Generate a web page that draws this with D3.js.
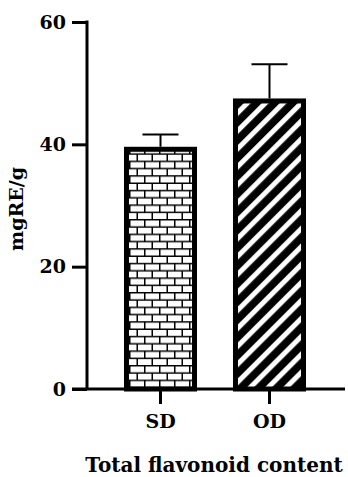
<!DOCTYPE html>
<html>
<head>
<meta charset="utf-8">
<script src="https://cdn.jsdelivr.net/npm/d3@7"></script>
<style>
  body { margin: 0; background: #fff; }
  svg { display: block; }
  text { font-family: "DejaVu Serif", serif; font-weight: bold; fill: #000; }
</style>
</head>
<body>
<svg id="chart"></svg>
<script>
// values
const groups = ["SD", "OD"];
const means = [39.6, 47.5];
const errors = [2.0, 5.6];
const yTicks = [0, 20, 40, 60];
const xTitle = "Total flavonoid content";
const yTitle = "mgRE/g";

const width = 348;
const height = 477;
const margin = ({ top: 22, bottom: 88, left: 87 });
const border = 5;

const svg = d3.select("#chart")
    .attr("width", width)
    .attr("height", height);

const defs = svg.append("defs");

// brick fill for SD
const brick = defs.append("pattern")
    .attr("id", "brick")
    .attr("patternUnits", "userSpaceOnUse")
    .attr("x", 129)
    .attr("width", 30)
    .attr("height", 14.6);
brick.append("rect").attr("width", 30).attr("height", 14.6).attr("fill", "#fff");
brick.append("path")
    .attr("d", "M0,0.75H30M0,8.05H30M0.75,0V7.3M15.75,0V7.3M8.25,7.3V14.6M23.25,7.3V14.6")
    .attr("stroke", "#000")
    .attr("stroke-width", 1.5)
    .attr("fill", "none");

// diagonal stripes for OD
const stripes = defs.append("pattern")
    .attr("id", "stripes")
    .attr("patternUnits", "userSpaceOnUse")
    .attr("width", 12.7)
    .attr("height", 12.7)
    .attr("patternTransform", "rotate(45)");
stripes.append("rect").attr("width", 12.7).attr("height", 12.7).attr("fill", "#000");
stripes.append("rect").attr("x", 4).attr("width", 5).attr("height", 12.7).attr("fill", "#fff");

const fills = ["url(#brick)", "url(#stripes)"];

const x = d3.scaleBand()
    .domain(groups)
    .range([106, 324])
    .paddingInner(0.33)
    .paddingOuter(0.165);

const y = d3.scaleLinear()
    .domain([0, 60])
    .range([height - margin.bottom, margin.top]);

const base = y(0);

// bars
svg.append("g")
    .selectAll("rect")
    .data(groups)
    .join("rect")
    .attr("x", d => x(d) + border / 2)
    .attr("y", (d, i) => y(means[i]) + border / 2)
    .attr("width", x.bandwidth() - border)
    .attr("height", (d, i) => base - y(means[i]) - border / 2)
    .attr("fill", (d, i) => fills[i])
    .attr("stroke", "#000")
    .attr("stroke-width", border);

// error bars (upper only)
const err = svg.append("g")
    .attr("stroke", "#000")
    .attr("stroke-width", 2);
groups.forEach((g, i) => {
    const cx = x(g) + x.bandwidth() / 2;
    err.append("line")
        .attr("x1", cx).attr("x2", cx)
        .attr("y1", y(means[i])).attr("y2", y(means[i] + errors[i]));
    err.append("line")
        .attr("x1", cx - 18).attr("x2", cx + 18)
        .attr("y1", y(means[i] + errors[i])).attr("y2", y(means[i] + errors[i]));
});

// y axis
const yAxis = svg.append("g")
    .attr("transform", `translate(${margin.left},0)`)
    .call(d3.axisLeft(y).tickValues(yTicks).tickSize(15).tickPadding(6).tickSizeOuter(0));
yAxis.select(".domain").attr("stroke-width", 3).attr("d", `M0,${margin.top - 1.5}V${base}`);
yAxis.selectAll(".tick line").attr("stroke-width", 3);
yAxis.selectAll(".tick text").attr("font-size", 19).attr("font-family", null);

// x axis
const xAxis = svg.append("g")
    .attr("transform", `translate(0,${base})`)
    .call(d3.axisBottom(x).tickSize(15).tickPadding(11).tickSizeOuter(0));
xAxis.select(".domain").attr("stroke-width", 3).attr("d", "M72,0H345");
xAxis.selectAll(".tick line").attr("stroke-width", 3);
xAxis.selectAll(".tick text").attr("font-size", 19).attr("font-family", null);

// titles
svg.append("text")
    .attr("x", 214)
    .attr("y", 472)
    .attr("text-anchor", "middle")
    .attr("font-size", 20)
    .text(xTitle);

svg.append("text")
    .attr("transform", "translate(23,209) rotate(-90)")
    .attr("text-anchor", "middle")
    .attr("font-size", 19)
    .text(yTitle);
</script>
</body>
</html>
